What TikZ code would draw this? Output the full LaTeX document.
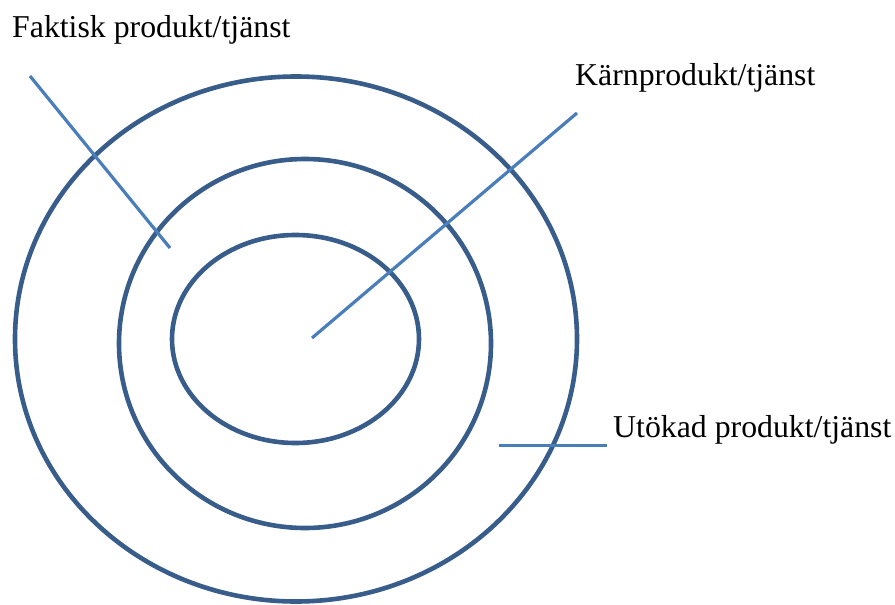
\documentclass[tikz,border=0pt]{standalone}
\usepackage{fontspec}
\setmainfont{Liberation Serif}
\definecolor{ringblue}{HTML}{385D8A}
\definecolor{lineblue}{HTML}{4A7EBB}
\begin{document}
\begin{tikzpicture}[x=1pt,y=-1pt,
  ring/.style={draw=ringblue,line width=4.6pt},
  leader/.style={draw=lineblue,line width=3.2pt},
  lbl/.style={anchor=base west,inner sep=0pt,font=\fontsize{31.8}{38}\selectfont}]
\useasboundingbox (0,0) rectangle (895,605);
\draw[ring] (296,339) ellipse [x radius=281, y radius=262.5];
\draw[ring] (305,343.5) ellipse [x radius=186, y radius=184.5];
\draw[ring] (295.5,339) ellipse [x radius=123.5, y radius=104];
\node[lbl] (fak) at (12,37) {Faktisk produkt/tjänst};
\node[lbl] (karn) at (575,85) {Kärnprodukt/tjänst};
\node[lbl] (uto) at (613,437) {Utökad produkt/tjänst};
\coordinate (f1) at (30,76);
\coordinate (f2) at (170,248);
\coordinate (k1) at (577,113);
\coordinate (k2) at (312,338);
\coordinate (u1) at (499,445.5);
\coordinate (u2) at (607,445.5);
\draw[leader] (f1) -- (f2);
\draw[leader] (k1) -- (k2);
\draw[leader] (u1) -- (u2);
\end{tikzpicture}
\end{document}
